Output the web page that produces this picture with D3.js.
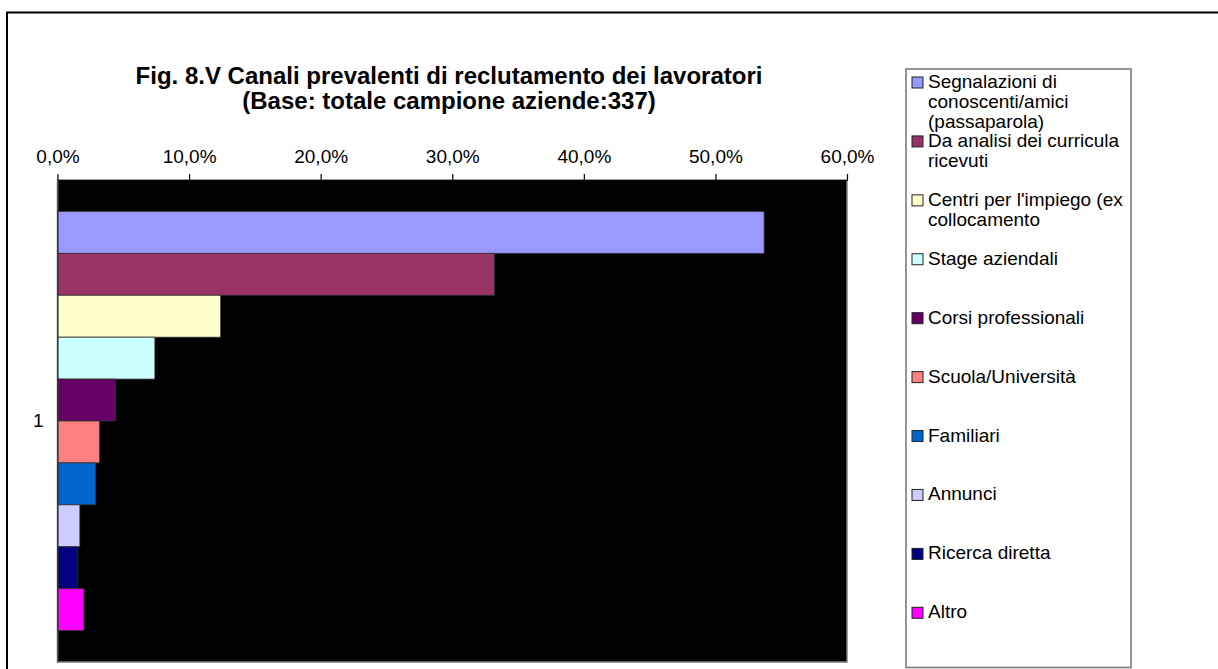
<!DOCTYPE html>
<html>
<head>
<meta charset="utf-8">
<script src="https://cdn.jsdelivr.net/npm/d3@7"></script>
<style>
  html, body { margin: 0; padding: 0; background: #fff; }
  svg { display: block; font-family: "Liberation Sans", Arial, sans-serif; }
</style>
</head>
<body>
<svg id="chart" width="1218" height="669"></svg>
<script>
// Recruitment channels (share of the 337 firms surveyed)
const categories = ["1"];
const seriesNames = [
  "Segnalazioni di conoscenti/amici (passaparola)",
  "Da analisi dei curricula ricevuti",
  "Centri per l'impiego (ex collocamento",
  "Stage aziendali",
  "Corsi professionali",
  "Scuola/Università",
  "Familiari",
  "Annunci",
  "Ricerca diretta",
  "Altro"
];
const seriesValues = [0.537, 0.332, 0.124, 0.074, 0.044, 0.032, 0.029, 0.017, 0.015, 0.020];
const seriesColors = ["#9999FF", "#993366", "#FFFFCC", "#CCFFFF", "#660066",
                      "#FF8080", "#0066CC", "#CCCCFF", "#000080", "#FF00FF"];
const tickValues = [0, 0.1, 0.2, 0.3, 0.4, 0.5, 0.6];
const titleLines = [
  "Fig. 8.V Canali prevalenti di reclutamento dei lavoratori",
  "(Base: totale campione aziende:337)"
];

const svg = d3.select("#chart");

// outer chart frame (runs off the right and bottom edges)
svg.append("rect")
  .attr("x", 7).attr("y", 12.5)
  .attr("width", 1300).attr("height", 700)
  .attr("fill", "#fff").attr("stroke", "#000").attr("stroke-width", 2);

const plot = { left: 57.5, right: 847, top: 180, bottom: 662 };

const x = d3.scaleLinear().domain([0, 0.6]).range([plot.left, plot.right]);
const yCat = d3.scaleBand().domain(categories)
  .range([plot.top, plot.bottom]).paddingInner(0).paddingOuter(0.075);
const ySer = d3.scaleBand().domain(d3.range(seriesValues.length))
  .range([0, yCat.bandwidth()]).padding(0);

// plot area
svg.append("rect")
  .attr("x", plot.left).attr("y", plot.top)
  .attr("width", plot.right - plot.left).attr("height", plot.bottom - plot.top)
  .attr("fill", "#000").attr("stroke", "#808080").attr("stroke-width", 1.5);

// bars
const group = svg.append("g")
  .attr("transform", `translate(0,${yCat(categories[0])})`);
group.selectAll("rect.bar")
  .data(seriesValues)
  .join("rect")
  .attr("class", "bar")
  .attr("x", x(0))
  .attr("y", (d, i) => ySer(i))
  .attr("width", d => x(d) - x(0))
  .attr("height", ySer.bandwidth())
  .attr("fill", (d, i) => seriesColors[i])
  .attr("stroke", "#333")
  .attr("stroke-width", 0.8);

// value axis along the top
const fmt = v => d3.format(".1f")(v * 100).replace(".", ",") + "%";
const xAxis = d3.axisTop(x).tickValues(tickValues).tickFormat(fmt)
  .tickSizeInner(6).tickSizeOuter(0).tickPadding(11);
const gx = svg.append("g")
  .attr("transform", `translate(0,${plot.top})`)
  .call(xAxis);
gx.select(".domain").attr("stroke", "#000").attr("stroke-width", 1.2);
gx.selectAll(".tick line").attr("stroke", "#000").attr("stroke-width", 1.2);
gx.selectAll(".tick text")
  .attr("fill", "#000")
  .style("font-size", "19px")
  .style("font-family", "'Liberation Sans', Arial, sans-serif");

// category axis
const gy = svg.append("g")
  .attr("transform", `translate(${plot.left},0)`)
  .call(d3.axisLeft(yCat).tickSize(0).tickPadding(14));
gy.select(".domain").attr("stroke", "#333").attr("stroke-width", 1.2);
gy.selectAll(".tick text")
  .attr("fill", "#000")
  .style("font-size", "19px")
  .style("font-family", "'Liberation Sans', Arial, sans-serif");

// title, two separate lines
svg.append("g").selectAll("text")
  .data(titleLines)
  .join("text")
  .attr("x", 449)
  .attr("y", (d, i) => 83.5 + i * 25)
  .attr("text-anchor", "middle")
  .style("font-size", "24px").style("font-weight", "bold")
  .text(d => d);

// legend
const legend = { x: 906, y: 69, w: 225, h: 598.5 };
svg.append("rect")
  .attr("x", legend.x).attr("y", legend.y)
  .attr("width", legend.w).attr("height", legend.h)
  .attr("fill", "#fff").attr("stroke", "#7a7a7a").attr("stroke-width", 1.6);

const slotY = d3.scaleLinear().domain([0, seriesNames.length - 1]).range([82.5, 612.8]);
const textX = 928, maxW = 201, lineH = 20;

const entries = svg.append("g").selectAll("g")
  .data(seriesNames)
  .join("g")
  .attr("transform", (d, i) => `translate(0,${slotY(i)})`);

entries.append("rect")
  .attr("x", 912).attr("y", -5.5)
  .attr("width", 11).attr("height", 11)
  .attr("fill", (d, i) => seriesColors[i])
  .attr("stroke", "#222").attr("stroke-width", 1);

entries.each(function (name) {
  const t = d3.select(this).append("text")
    .attr("x", textX).attr("y", 5.5)
    .style("font-size", "19px").attr("fill", "#000");
  const words = name.split(" ");
  let line = [];
  let tspan = t.append("tspan").attr("x", textX).attr("dy", 0);
  for (const w of words) {
    line.push(w);
    tspan.text(line.join(" "));
    if (tspan.node().getComputedTextLength() > maxW && line.length > 1) {
      line.pop();
      tspan.text(line.join(" "));
      line = [w];
      tspan = t.append("tspan").attr("x", textX).attr("dy", lineH).text(w);
    }
  }
});
</script>
</body>
</html>
